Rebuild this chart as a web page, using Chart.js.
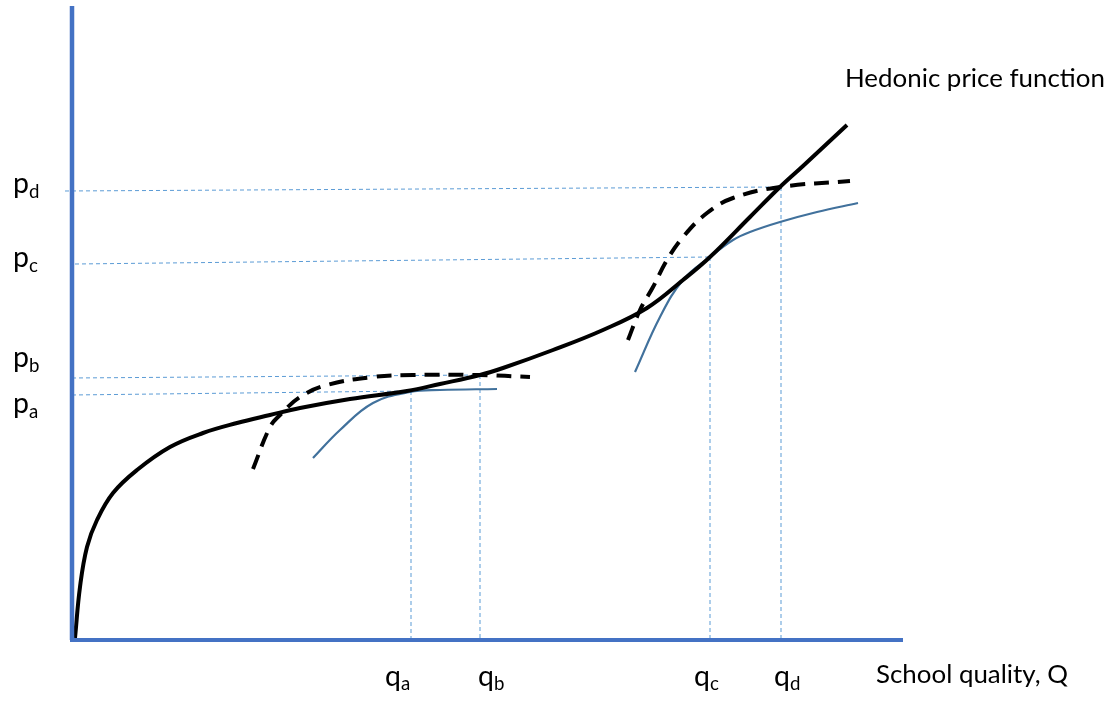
<!DOCTYPE html>
<html><head><meta charset="utf-8">
<script src="https://cdn.jsdelivr.net/npm/chart.js@4.4.1/dist/chart.umd.min.js"></script>
<style>html,body{margin:0;padding:0;background:#fff;overflow:hidden}#wrap{width:1117px;height:706px;position:relative}</style>
</head><body><div id="wrap"><canvas id="c"></canvas></div>
<script>
// ---- Data (Q = school quality, P = price) ----
const axisQMax = 83.1;
const axisPMax = 63.4;

const hedonicQ = [0.3, 0.8, 1.5, 2.5, 4.1, 6.5, 9.8, 13.1, 16.5, 19.8, 22.8, 27.8, 33.5, 36.8, 40.8, 43.1, 48.1, 53.1, 57.5, 61.1, 63.8, 67.8, 70.8, 73.1, 77.5];
const hedonicP = [0.2, 5.3, 9.3, 12.0, 14.7, 17.0, 19.3, 20.7, 21.7, 22.5, 23.2, 24.1, 24.9, 25.6, 26.5, 27.2, 29.0, 31.0, 33.2, 36.0, 38.3, 42.3, 45.3, 47.4, 51.5];

const bidLowQ = [18.1, 19.8, 20.8, 22.8, 25.5, 30.1, 34.1, 40.8, 45.8];
const bidLowP = [17.1, 21.3, 22.5, 24.3, 25.5, 26.3, 26.5, 26.5, 26.3];

const offerLowQ = [24.1, 26.8, 30.1, 33.8, 36.8, 42.5];
const offerLowP = [18.2, 21.0, 23.7, 24.8, 25.0, 25.1];

const bidHighQ = [55.6, 56.8, 58.1, 59.5, 61.1, 63.5, 66.1, 70.8, 77.8];
const bidHighP = [30.0, 33.0, 35.3, 38.0, 40.3, 42.7, 44.2, 45.3, 45.9];

const offerHighQ = [56.3, 58.8, 61.1, 63.8, 66.1, 67.8, 70.8, 74.5, 78.6];
const offerHighP = [26.8, 32.3, 36.0, 38.3, 40.0, 40.8, 41.8, 42.8, 43.7];

// equilibrium points a, b, c, d
const eqNames = ['a', 'b', 'c', 'd'];
const eqQ = [33.9, 40.8, 63.8, 70.9];
const eqP = [24.9, 26.5, 38.3, 45.3];
// left ends of the price guide lines (they start at/near the P axis)
const guideStartQ = [0, 0, 0.3, -0.7];
const guideStartP = [24.5, 26.2, 37.6, 44.9];

// label anchors (pixels) for annotation text
const pLabelX = 13;
const pLabelBaselineOffset = [22, -8, 10, 6];
const qLabelOffsetX = [-26, -2, -16, -7];
const qLabelBaseline = 686;

const zip = (xs, ys) => xs.map((x, i) => ({x: x, y: ys[i]}));

const guideColor = '#5B9BD5';
const guideDatasets = [];
eqNames.forEach((n, i) => {
  guideDatasets.push({
    data: [{x: guideStartQ[i], y: guideStartP[i]}, {x: eqQ[i], y: eqP[i]}],
    borderColor: guideColor, borderWidth: 1, borderDash: [4, 3], order: 10
  });
  guideDatasets.push({
    data: [{x: eqQ[i], y: eqP[i]}, {x: eqQ[i], y: 0}],
    borderColor: guideColor, borderWidth: 1, borderDash: [4, 3], order: 10
  });
});

const datasets = [
  ...guideDatasets,
  {data: zip(offerLowQ, offerLowP), borderColor: '#41719C', borderWidth: 2.2, tension: 0.4, order: 8},
  {data: zip(offerHighQ, offerHighP), borderColor: '#41719C', borderWidth: 2.2, tension: 0.4, order: 8},
  {data: zip(bidLowQ, bidLowP), borderColor: '#000', borderWidth: 4, borderDash: [15, 9], tension: 0.4, order: 6},
  {data: zip(bidHighQ, bidHighP), borderColor: '#000', borderWidth: 4, borderDash: [15, 9], tension: 0.4, order: 6},
  {data: zip(hedonicQ, hedonicP), borderColor: '#000', borderWidth: 4, tension: 0.4, order: 4},
  {data: [{x: 0, y: 0}, {x: 0, y: axisPMax}], borderColor: '#4472C4', borderWidth: 4.5, order: 1, borderCapStyle: 'butt'},
  {data: [{x: -0.2, y: 0}, {x: axisQMax, y: 0}], borderColor: '#4472C4', borderWidth: 3.8, order: 1, borderCapStyle: 'butt'}
];
datasets.forEach(d => { d.pointRadius = 0; d.fill = false; d.clip = false; if (d.tension === undefined) d.tension = 0; });

const FONT = 'Lato, "Open Sans", sans-serif';

const textPlugin = {
  id: 'labels',
  afterDraw(chart) {
    const ctx = chart.ctx;
    const xs = chart.scales.x, ys = chart.scales.y;
    ctx.save();
    ctx.fillStyle = '#000';
    ctx.textBaseline = 'alphabetic';
    ctx.textAlign = 'left';
    // fit main font so the title spans its width in the reference
    ctx.font = '100px ' + FONT;
    const w = ctx.measureText('Hedonic price function').width;
    const size = 100 * 260 / w;
    const letterSize = size * 1.1;
    const subSize = size * 0.72;
    ctx.font = size + 'px ' + FONT;
    ctx.fillText('Hedonic price function', 845, 87);
    ctx.fillText('School quality, Q', 876, 683);
    eqNames.forEach((n, i) => {
      // price labels
      const py = ys.getPixelForValue(eqP[i]) + pLabelBaselineOffset[i];
      ctx.font = letterSize + 'px ' + FONT;
      ctx.fillText('p', pLabelX, py);
      const pw = ctx.measureText('p').width;
      ctx.font = subSize + 'px ' + FONT;
      ctx.fillText(n, pLabelX + pw, py + 5);
      // quantity labels
      const qx = xs.getPixelForValue(eqQ[i]) + qLabelOffsetX[i];
      ctx.font = letterSize + 'px ' + FONT;
      ctx.fillText('q', qx, qLabelBaseline);
      const qw = ctx.measureText('q').width;
      ctx.font = subSize + 'px ' + FONT;
      ctx.fillText(n, qx + qw, qLabelBaseline + 4);
    });
    ctx.restore();
  }
};

new Chart(document.getElementById('c'), {
  type: 'line',
  data: {datasets: datasets},
  options: {
    responsive: true,
    maintainAspectRatio: false,
    animation: false,
    layout: {padding: {left: 72, right: 214, top: 6, bottom: 66}},
    plugins: {legend: {display: false}, tooltip: {enabled: false}},
    scales: {
      x: {type: 'linear', min: 0, max: axisQMax, display: false},
      y: {type: 'linear', min: 0, max: axisPMax, display: false}
    }
  },
  plugins: [textPlugin]
});
</script>
</body></html>
